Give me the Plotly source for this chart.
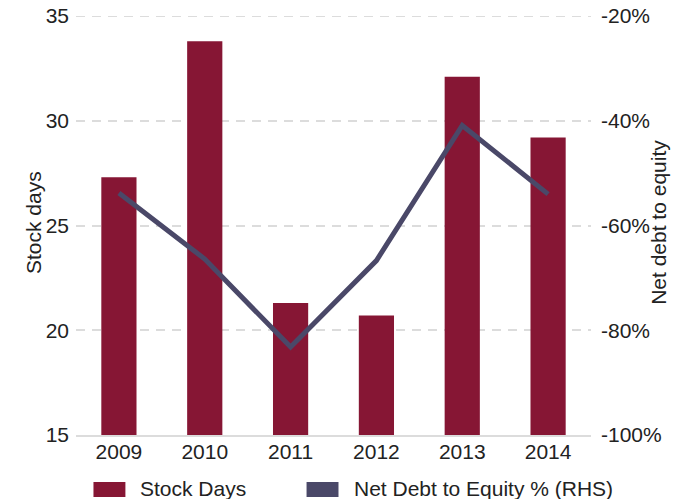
import plotly.graph_objects as go

# Data
years = ["2009", "2010", "2011", "2012", "2013", "2014"]
stock_days = [27.3, 33.8, 21.3, 20.7, 32.1, 29.2]
net_debt_equity = [-53.8, -66.4, -83.2, -66.7, -40.9, -54.0]

left_ticks = [15, 20, 25, 30, 35]
right_ticks = [-100, -80, -60, -40, -20]
right_tick_text = [f"{v}%" for v in right_ticks]

BAR_COLOR = "#861634"
LINE_COLOR = "#4a4868"
GRID_COLOR = "#dcdcdc"
TEXT_COLOR = "#222222"
FONT = "Liberation Sans, Arial, sans-serif"
FS = 21
GRID_DASH = "9px,7px"

W, H = 685, 499
M = dict(l=75.5, r=93.5, t=16, b=64)
PW = W - M["l"] - M["r"]
PH = H - M["t"] - M["b"]


def px_x(x):
    return (x - M["l"]) / PW


def px_y(y):
    return (H - M["b"] - y) / PH


fig = go.Figure()

fig.add_trace(go.Bar(
    x=years, y=stock_days, name="Stock Days",
    marker=dict(color=BAR_COLOR, line=dict(width=0)),
    showlegend=False,
))

fig.add_trace(go.Scatter(
    x=years, y=net_debt_equity, name="Net Debt to Equity % (RHS)",
    mode="lines", line=dict(color=LINE_COLOR, width=5),
    yaxis="y2", showlegend=False,
))

shapes = []
annotations = []

# Top gridline at the upper end of the left axis
shapes.append(dict(
    type="line", xref="paper", yref="y", layer="below",
    x0=0, x1=1, y0=left_ticks[-1], y1=left_ticks[-1],
    line=dict(color=GRID_COLOR, width=2, dash=GRID_DASH),
))

# Legend drawn as wide swatches with labels below the plot
legend_items = [
    ("Stock Days", BAR_COLOR, 93, 125, 138),
    ("Net Debt to Equity % (RHS)", LINE_COLOR, 306.5, 338.5, 352),
]
for label, color, x0, x1, tx in legend_items:
    shapes.append(dict(
        type="rect", xref="paper", yref="paper",
        x0=px_x(x0), x1=px_x(x1), y0=px_y(497), y1=px_y(482),
        fillcolor=color, line=dict(width=0),
    ))
    annotations.append(dict(
        text=label, xref="paper", yref="paper",
        x=px_x(tx), y=px_y(488), xanchor="left", yanchor="middle",
        showarrow=False, font=dict(size=FS, color=TEXT_COLOR, family=FONT),
    ))

# Axis titles
annotations.append(dict(
    text="Stock days", xref="paper", yref="paper",
    x=px_x(33), y=px_y(222.5), xanchor="center", yanchor="middle",
    textangle=-90, showarrow=False,
    font=dict(size=FS, color=TEXT_COLOR, family=FONT),
))
annotations.append(dict(
    text="Net debt to equity", xref="paper", yref="paper",
    x=px_x(659), y=px_y(222.5), xanchor="center", yanchor="middle",
    textangle=-90, showarrow=False,
    font=dict(size=FS, color=TEXT_COLOR, family=FONT),
))

fig.update_layout(
    width=W, height=H,
    margin=M,
    paper_bgcolor="white", plot_bgcolor="white",
    bargap=0.59,
    font=dict(family=FONT, size=FS, color=TEXT_COLOR),
    xaxis=dict(
        type="category", range=[-0.5, 5.5], automargin=False,
        showgrid=False, showline=True, linecolor=GRID_COLOR, linewidth=2,
        ticks="", tickfont=dict(size=FS), ticklabelstandoff=-3,
    ),
    yaxis=dict(
        range=[15, 35], tickvals=left_ticks, automargin=False,
        showgrid=True, gridcolor=GRID_COLOR, gridwidth=2, griddash=GRID_DASH,
        zeroline=False, showline=False, ticks="",
        ticklabelstandoff=6,
    ),
    yaxis2=dict(
        overlaying="y", side="right", automargin=False,
        range=[-100, -20], tickvals=right_ticks, ticktext=right_tick_text,
        showgrid=False, zeroline=False, showline=False, ticks="",
        ticklabelstandoff=9,
    ),
    shapes=shapes,
    annotations=annotations,
)

fig.write_html("out.html")
